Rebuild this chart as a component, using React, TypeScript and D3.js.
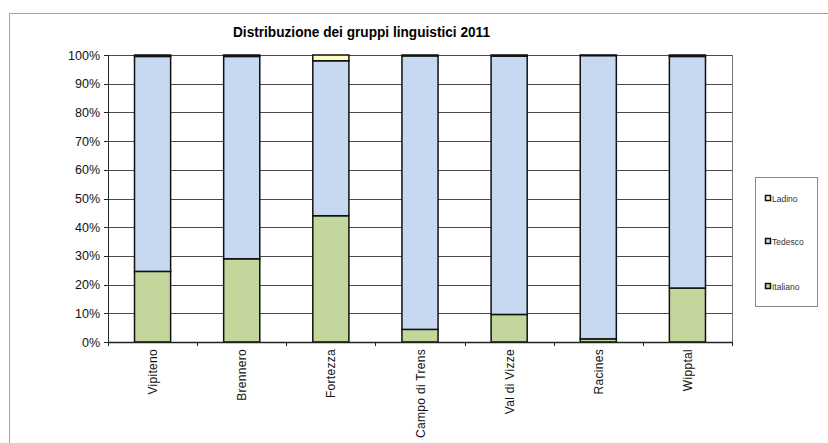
import React from "react";
import * as d3 from "d3";

const categories = ["Vipiteno", "Brennero", "Fortezza", "Campo di Trens", "Val di Vizze", "Racines", "Wipptal"];
const italiano = [24.6, 29.0, 44.0, 4.4, 9.6, 1.1, 18.8];
const tedesco = [74.9, 70.5, 54.0, 95.3, 90.0, 98.7, 80.7];
const ladino = [0.5, 0.5, 2.0, 0.3, 0.4, 0.2, 0.5];
const yTicks = [0, 10, 20, 30, 40, 50, 60, 70, 80, 90, 100];
const seriesNames = ["Italiano", "Tedesco", "Ladino"];
const seriesColors = ["#C3D69B", "#C6D9F1", "#FFFFC0"];
const legendOrder = ["Ladino", "Tedesco", "Italiano"];
const title = "Distribuzione dei gruppi linguistici 2011";

export default function App() {
  const W = 828, H = 443;
  const left = 108, right = 732, top = 55, bottom = 342;
  const x = d3.scaleBand<string>().domain(categories).range([left, right]).paddingInner(0.595).paddingOuter(0.2975);
  const y = d3.scaleLinear().domain([0, 100]).range([bottom, top]);
  const rows = categories.map((c, i) => ({ cat: c, Italiano: italiano[i], Tedesco: tedesco[i], Ladino: ladino[i] }));
  const stack = d3.stack<any>().keys(seriesNames);
  const layers = stack(rows);
  const step = (right - left) / categories.length;
  const font = "'Liberation Sans', Arial, sans-serif";
  return (
    <svg width={W} height={H} style={{ position: "absolute", left: 0, top: 0, background: "#fff" }}>
      <path d={`M9.5,${H}V13.5H${W}`} fill="none" stroke="#a0a0a0" strokeWidth={1} />
      <text x={233} y={37} textLength={257} lengthAdjust="spacingAndGlyphs" fontFamily={font} fontWeight="bold" fontSize={14.5} fill="#000">{title}</text>
      {yTicks.map(t => (
        <g key={t}>
          {t > 0 && <line x1={left} x2={right} y1={Math.round(y(t)) + 0.5} y2={Math.round(y(t)) + 0.5} stroke="#4a4a4a" strokeWidth={1} />}
          <line x1={left - 4} x2={left} y1={Math.round(y(t)) + 0.5} y2={Math.round(y(t)) + 0.5} stroke="#222" />
          <text x={left - 8} y={y(t) + 4.5} textAnchor="end" fontFamily={font} fontSize={12.5} fill="#111">{t}%</text>
        </g>
      ))}
      <line x1={right + 0.5} x2={right + 0.5} y1={top} y2={bottom} stroke="#777" />
      {layers.map((layer, si) => (
        <g key={si}>
          {layer.map((d, i) => (
            <rect key={i} x={x(categories[i])} y={y(d[1])} width={x.bandwidth()} height={Math.max(0, y(d[0]) - y(d[1]))}
              fill={seriesColors[si]} stroke="#111" strokeWidth={1.5} />
          ))}
        </g>
      ))}
      <line x1={left + 0.5} x2={left + 0.5} y1={top} y2={bottom + 1} stroke="#222" strokeWidth={1} />
      <line x1={left} x2={right} y1={bottom + 0.5} y2={bottom + 0.5} stroke="#222" strokeWidth={1.5} />
      {d3.range(categories.length + 1).map(i => (
        <line key={i} x1={Math.round(left + i * step) + 0.5} x2={Math.round(left + i * step) + 0.5} y1={bottom} y2={bottom + 4} stroke="#222" />
      ))}
      {categories.map(c => (
        <text key={c} transform={`translate(${(x(c) as number) + x.bandwidth() / 2 + 4.5},${bottom + 7}) rotate(-90)`}
          textAnchor="end" fontFamily={font} fontSize={12} fill="#111" letterSpacing={0.3}>{c}</text>
      ))}
      <rect x={755.5} y={177.5} width={62} height={129} fill="#fff" stroke="#8a8a8a" strokeWidth={1} />
      {legendOrder.map((n, i) => {
        const ly = [199, 242, 287][i];
        const si = seriesNames.indexOf(n);
        return (
          <g key={n}>
            <rect x={765.5} y={ly - 3.5} width={5} height={5} fill={seriesColors[si]} stroke="#111" strokeWidth={1.5} />
            <text x={772} y={ly + 3} fontFamily={font} fontSize={8.5} fill="#333">{n}</text>
          </g>
        );
      })}
    </svg>
  );
}
